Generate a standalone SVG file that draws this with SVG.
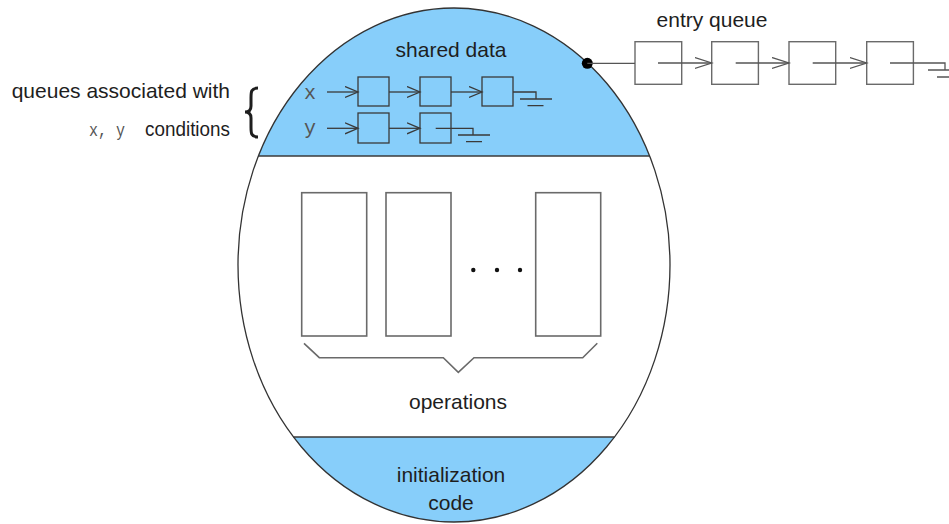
<svg xmlns="http://www.w3.org/2000/svg" width="949" height="524" viewBox="0 0 949 524">
  <defs>
    <style>
      .lbl { font-family: "Liberation Sans", Arial, sans-serif; font-size: 21px; fill: #1e1e1e; }
      .mono { font-family: "Liberation Mono", "Courier New", monospace; font-size: 20px; fill: #555; }
      .qbox { fill: none; stroke: #3a3a3a; stroke-width: 1.3; }
      .ebox { fill: none; stroke: #6a6a6a; stroke-width: 1.4; }
      .opbox { fill: none; stroke: #6a6a6a; stroke-width: 1.6; }
      .ln { fill: none; stroke: #3a3a3a; stroke-width: 1.3; }
      .eln { fill: none; stroke: #555; stroke-width: 1.3; }
      .band { fill: #87CEFA; }
    </style>
    <clipPath id="ovalClip">
      <ellipse cx="454" cy="265" rx="216" ry="257"/>
    </clipPath>
    <marker id="arrS" markerUnits="userSpaceOnUse" markerWidth="16" markerHeight="14" refX="13" refY="6" orient="auto">
      <path d="M0,0.5 L13,6 L0,11.5" fill="none" stroke="#3a3a3a" stroke-width="1.3"/>
    </marker>
    <marker id="arrL" markerUnits="userSpaceOnUse" markerWidth="20" markerHeight="14" refX="17" refY="6" orient="auto">
      <path d="M0,0.5 L17,6 L0,11.5" fill="none" stroke="#555" stroke-width="1.3"/>
    </marker>
  </defs>

  <rect width="949" height="524" fill="#ffffff"/>

  <!-- Monitor oval -->
  <g id="monitor">
    <ellipse cx="454" cy="265" rx="216" ry="257" fill="#ffffff"/>
    <g clip-path="url(#ovalClip)">
      <rect class="band" x="230" y="0" width="450" height="156"/>
      <rect class="band" x="230" y="437" width="450" height="90"/>
    </g>
    <line class="ln" x1="258.4" y1="156" x2="649.6" y2="156"/>
    <line class="ln" x1="293.5" y1="437" x2="614.5" y2="437"/>
    <ellipse cx="454" cy="265" rx="216" ry="257" fill="none" stroke="#333" stroke-width="1.3"/>
  </g>

  <g id="shared-data">
    <text class="lbl" x="451" y="56.5" text-anchor="middle">shared data</text>
  </g>

  <g id="condition-label">
    <text class="lbl" x="230" y="98" text-anchor="end">queues associated with</text>
    <text class="mono" x="89" y="136" style="font-size:18px" textLength="36" lengthAdjust="spacingAndGlyphs">x, y</text>
    <text class="lbl" x="145" y="136" textLength="85" lengthAdjust="spacingAndGlyphs">conditions</text>
    <path d="M258,88 C251,88 251,92 251,98 L251,106 C251,110 249,112 245,112 C249,112 251,114 251,118 L251,127 C251,133 251,137 258,137" fill="none" stroke="#1e1e1e" stroke-width="3"/>
  </g>

  <!-- condition x queue -->
  <g id="queue-x">
    <text class="mono" x="304" y="99">x</text>
    <rect id="x1" class="qbox" x="358" y="77" width="31" height="29"/>
    <rect id="x2" class="qbox" x="420" y="77" width="31" height="29"/>
    <rect id="x3" class="qbox" x="482" y="77" width="31" height="29"/>
  </g>

  <!-- condition y queue -->
  <g id="queue-y">
    <text class="mono" x="304" y="134">y</text>
    <rect id="y1" class="qbox" x="358" y="113" width="31" height="30"/>
    <rect id="y2" class="qbox" x="420" y="113" width="31" height="30"/>
  </g>

  <!-- entry queue -->
  <g id="entry-queue">
    <text class="lbl" x="712" y="27" text-anchor="middle">entry queue</text>
    <rect id="e1" class="ebox" x="635" y="41.7" width="46.7" height="42.6"/>
    <rect id="e2" class="ebox" x="711.7" y="41.7" width="46.7" height="42.6"/>
    <rect id="e3" class="ebox" x="789" y="41.7" width="46.7" height="42.6"/>
    <rect id="e4" class="ebox" x="866.7" y="41.7" width="46.7" height="42.6"/>
  </g>

  <!-- operations -->
  <g id="operations">
    <rect class="opbox" x="301.7" y="192.7" width="65" height="143.3"/>
    <rect class="opbox" x="386" y="192.7" width="65" height="143.3"/>
    <rect class="opbox" x="535.7" y="192.7" width="65" height="143.3"/>
    <circle cx="473.3" cy="270" r="2.2" fill="#111"/>
    <circle cx="497" cy="270" r="2.2" fill="#111"/>
    <circle cx="520" cy="270" r="2.2" fill="#111"/>
    <path d="M304,343.3 L319.3,357.7 L443.3,357.7 L458.3,372.3 L474,357.7 L582.7,357.7 L597.3,343.3" fill="none" stroke="#6a6a6a" stroke-width="1.6"/>
    <text class="lbl" x="458" y="409" text-anchor="middle">operations</text>
  </g>

  <g id="initialization">
    <text class="lbl" x="451" y="481.5" text-anchor="middle">initialization</text>
    <text class="lbl" x="451" y="510" text-anchor="middle">code</text>
  </g>

  <!-- connectors -->
  <g id="connectors">
    <!-- x queue -->
    <line class="ln" x1="327" y1="92" x2="358" y2="92" marker-end="url(#arrS)"/>
    <line class="ln" x1="389" y1="92" x2="420" y2="92" marker-end="url(#arrS)"/>
    <line class="ln" x1="451" y1="92" x2="482" y2="92" marker-end="url(#arrS)"/>
    <path class="ln" d="M513,92 L536,92 L536,99 M520,99 L552,99 M527.5,105.7 L543.5,105.7"/>
    <!-- y queue -->
    <line class="ln" x1="327" y1="128.3" x2="358" y2="128.3" marker-end="url(#arrS)"/>
    <line class="ln" x1="389" y1="128.3" x2="420" y2="128.3" marker-end="url(#arrS)"/>
    <path class="ln" d="M435.7,128.3 L473,128.3 L473,135 M458,135 L490,135 M466,141.7 L482,141.7"/>
    <!-- entry queue -->
    <circle cx="587.3" cy="63.3" r="5.5" fill="#000"/>
    <line class="eln" x1="587.3" y1="63.3" x2="635" y2="63.3"/>
    <line class="eln" x1="658" y1="63" x2="711.7" y2="63" marker-end="url(#arrL)"/>
    <line class="eln" x1="735.7" y1="63" x2="789" y2="63" marker-end="url(#arrL)"/>
    <line class="eln" x1="812.7" y1="63" x2="866.7" y2="63" marker-end="url(#arrL)"/>
    <path class="eln" d="M890,63 L945,63 L945,70 M928,70 L960,70 M937,77 L960,77"/>
  </g>
</svg>
